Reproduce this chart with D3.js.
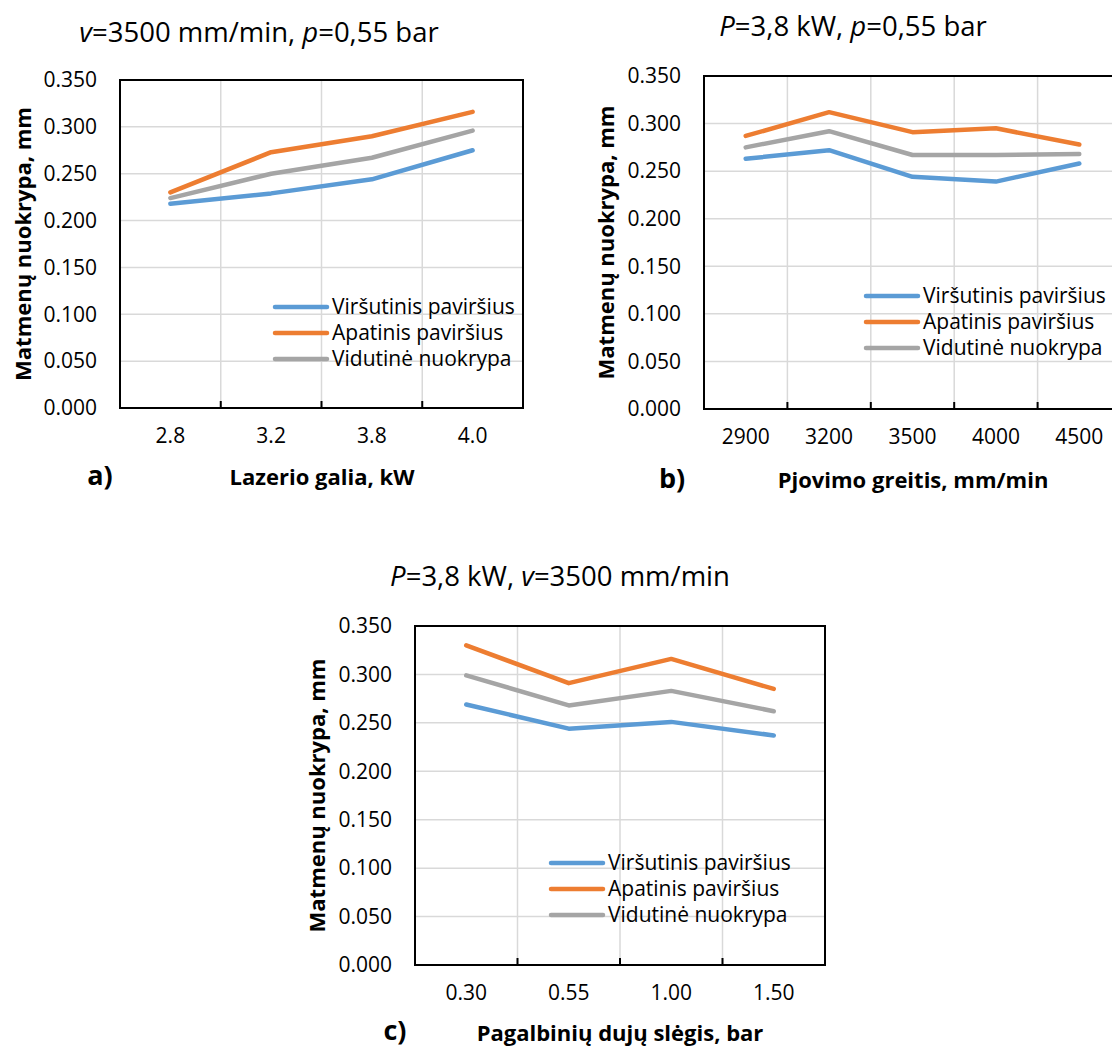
<!DOCTYPE html>
<html>
<head>
<meta charset="utf-8">
<script src="https://cdn.jsdelivr.net/npm/d3@7"></script>
<style>
  body { margin: 0; background: #fff; }
  svg { display: block; font-family: "Open Sans", sans-serif; }
</style>
</head>
<body>
<div id="chart"></div>
<script>
// data
const seriesNames = ["Viršutinis paviršius", "Apatinis paviršius", "Vidutinė nuokrypa"]
const seriesColors = ["#5B9BD5", "#ED7D31", "#A5A5A5"]
const yTicks = [0, 0.05, 0.1, 0.15, 0.2, 0.25, 0.3, 0.35]

const powerCats = ["2.8", "3.2", "3.8", "4.0"]
const powerTop = [0.218, 0.229, 0.244, 0.275]
const powerBottom = [0.230, 0.273, 0.290, 0.316]
const powerMean = [0.224, 0.250, 0.267, 0.296]

const speedCats = ["2900", "3200", "3500", "4000", "4500"]
const speedTop = [0.263, 0.272, 0.244, 0.239, 0.258]
const speedBottom = [0.287, 0.312, 0.291, 0.295, 0.278]
const speedMean = [0.275, 0.292, 0.267, 0.267, 0.268]

const pressCats = ["0.30", "0.55", "1.00", "1.50"]
const pressTop = [0.269, 0.244, 0.251, 0.237]
const pressBottom = [0.330, 0.291, 0.316, 0.285]
const pressMean = [0.299, 0.268, 0.283, 0.262]

const W = 1112, H = 1048

const svg = d3.select("#chart").append("svg")
    .attr("width", W)
    .attr("height", H)

svg.append("rect").attr("width", W).attr("height", H).attr("fill", "white")

const panels = [
    {cats: powerCats, series: [powerTop, powerBottom, powerMean],
     left: 120, top: 80, width: 403, height: 328,
     title: [["v", true], ["=3500 mm/min, ", false], ["p", true], ["=0,55 bar", false]],
     titleX: 259, titleY: 42,
     xTitle: "Lazerio galia, kW", xTitleX: 322, xTitleY: 485,
     letter: "a)", letterX: 100, letterY: 485,
     yTitleX: 23, legendX: 275, legendY: 307},
    {cats: speedCats, series: [speedTop, speedBottom, speedMean],
     left: 704, top: 76, width: 417, height: 333,
     title: [["P", true], ["=3,8 kW, ", false], ["p", true], ["=0,55 bar", false]],
     titleX: 853, titleY: 36,
     xTitle: "Pjovimo greitis, mm/min", xTitleX: 913, xTitleY: 488,
     letter: "b)", letterX: 672, letterY: 488,
     yTitleX: 606, legendX: 866, legendY: 296},
    {cats: pressCats, series: [pressTop, pressBottom, pressMean],
     left: 415, top: 626, width: 410, height: 339,
     title: [["P", true], ["=3,8 kW, ", false], ["v", true], ["=3500 mm/min", false]],
     titleX: 560, titleY: 586,
     xTitle: "Pagalbinių dujų slėgis, bar", xTitleX: 620, xTitleY: 1041,
     letter: "c)", letterX: 395, letterY: 1040,
     yTitleX: 317, legendX: 551, legendY: 863}
]

panels.forEach(drawPanel)

function drawPanel(p) {
    const x = d3.scaleBand()
        .domain(p.cats)
        .range([0, p.width])
    const y = d3.scaleLinear()
        .domain([0, 0.35])
        .range([p.height, 0])

    const g = svg.append("g")
        .attr("transform", `translate(${p.left},${p.top})`)

    // grid
    g.selectAll(".hgrid")
        .data(yTicks.slice(1))
        .join("line")
            .attr("x1", 0).attr("x2", p.width)
            .attr("y1", d => y(d)).attr("y2", d => y(d))
            .attr("stroke", "#D9D9D9")
            .attr("stroke-width", 1.5)
    g.selectAll(".vgrid")
        .data(p.cats.slice(1))
        .join("line")
            .attr("x1", d => x(d)).attr("x2", d => x(d))
            .attr("y1", 0).attr("y2", p.height)
            .attr("stroke", "#D9D9D9")
            .attr("stroke-width", 1.5)

    // y axis labels
    const yAxis = g.append("g")
        .call(d3.axisLeft(y).tickValues(yTicks).tickFormat(d3.format(".3f")).tickSize(0).tickPadding(23))
    yAxis.select(".domain").remove()
    yAxis.selectAll("text")
        .attr("font-family", "Open Sans")
        .attr("font-size", 21)
        .attr("fill", "#000")

    // x axis: labels centred in bands, ticks inward at boundaries
    const xAxis = g.append("g")
        .attr("transform", `translate(0,${p.height})`)
        .call(d3.axisBottom(x).tickSize(0).tickPadding(20))
    xAxis.select(".domain").remove()
    xAxis.selectAll("text")
        .attr("font-family", "Open Sans")
        .attr("font-size", 21)
        .attr("fill", "#000")
    g.selectAll(".xtick")
        .data(p.cats.slice(1))
        .join("line")
            .attr("x1", d => x(d)).attr("x2", d => x(d))
            .attr("y1", p.height).attr("y2", p.height - 7)
            .attr("stroke", "#000")
            .attr("stroke-width", 2)

    // plot border
    g.append("rect")
        .attr("width", p.width)
        .attr("height", p.height)
        .attr("fill", "none")
        .attr("stroke", "#000")
        .attr("stroke-width", 2)

    // lines
    const line = d3.line()
        .x((d, i) => x(p.cats[i]) + x.bandwidth() / 2)
        .y(d => y(d))
    g.selectAll(".series")
        .data(p.series)
        .join("path")
            .attr("d", line)
            .attr("fill", "none")
            .attr("stroke", (d, i) => seriesColors[i])
            .attr("stroke-width", 4.5)
            .attr("stroke-linecap", "round")
            .attr("stroke-linejoin", "round")

    // legend
    const leg = svg.append("g")
        .attr("transform", `translate(${p.legendX},${p.legendY})`)
    const item = leg.selectAll("g")
        .data(seriesNames)
        .join("g")
            .attr("transform", (d, i) => `translate(0,${i * 26})`)
    item.append("line")
        .attr("x1", 0).attr("x2", 52)
        .attr("stroke", (d, i) => seriesColors[i])
        .attr("stroke-width", 4.5)
        .attr("stroke-linecap", "round")
    item.append("text")
        .attr("x", 57)
        .attr("dy", "0.35em")
        .attr("font-size", 21)
        .text(d => d)

    // title with italic symbols
    const t = svg.append("text")
        .attr("x", p.titleX)
        .attr("y", p.titleY)
        .attr("text-anchor", "middle")
        .attr("font-size", 27.5)
    t.selectAll("tspan")
        .data(p.title)
        .join("tspan")
            .attr("font-style", d => d[1] ? "italic" : "normal")
            .text(d => d[0])

    // axis titles
    svg.append("text")
        .attr("transform", `translate(${p.yTitleX},${p.top + p.height / 2}) rotate(-90)`)
        .attr("text-anchor", "middle")
        .attr("dy", "0.35em")
        .attr("font-size", 22)
        .attr("font-weight", "bold")
        .text("Matmenų nuokrypa, mm")
    svg.append("text")
        .attr("x", p.xTitleX)
        .attr("y", p.xTitleY)
        .attr("text-anchor", "middle")
        .attr("font-size", 22)
        .attr("font-weight", "bold")
        .text(p.xTitle)
    svg.append("text")
        .attr("x", p.letterX)
        .attr("y", p.letterY)
        .attr("text-anchor", "middle")
        .attr("font-size", 27)
        .attr("font-weight", "bold")
        .text(p.letter)
}
</script>
</body>
</html>
